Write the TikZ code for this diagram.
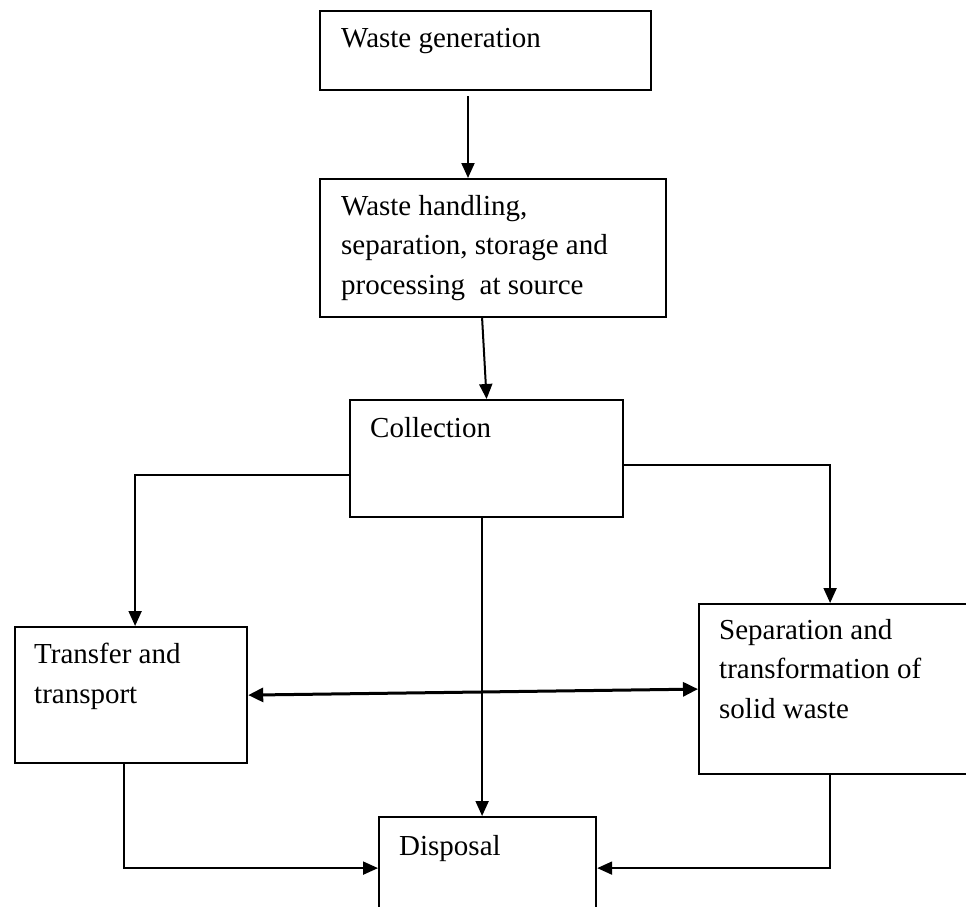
\documentclass[tikz,border=0pt]{standalone}
\usepackage{fontspec}
\setmainfont{Liberation Serif}
\usetikzlibrary{arrows.meta,calc,positioning}

\begin{document}
\begin{tikzpicture}[x=1pt,y=-1pt,
	boite/.style={draw, rectangle, line width=\cadre, inner sep=0pt, anchor=north west},
	texte/.style={anchor=base west, inner sep=0pt, align=left, font=\fontsize{29}{39.5}\selectfont},
	fleche/.style={line width=\light, -{Triangle[length=15pt,width=13pt]}},
	double/.style={line width=\heavy, {Triangle[length=15pt,width=14pt]}-{Triangle[length=15pt,width=14pt]}}]

%%%%%%%%%%%%%%%%%%%%%%
%%%	   Def style    %%%
%%%%%%%%%%%%%%%%%%%%%%

\def \cadre{2.2pt}
\def \light{2pt}
\def \heavy{3pt}

%%%%%%%%%%%%%%%%%%%%%%
%%%	    Cadre       %%%
%%%%%%%%%%%%%%%%%%%%%%

\useasboundingbox (0,0) rectangle (966,907);
\clip (0,0) rectangle (966,907);

%%%%%%%%%%%%%%%%%%%%%%
%%%	    Boites      %%%
%%%%%%%%%%%%%%%%%%%%%%

\node[boite, minimum width=331pt, minimum height=79pt] (gen) at (319,10) {};
\node[boite, minimum width=346pt, minimum height=138pt] (handling) at (319,178) {};
\node[boite, minimum width=273pt, minimum height=117pt] (collection) at (349,399) {};
\node[boite, minimum width=232pt, minimum height=136pt] (transfer) at (14,626) {};
\node[boite, minimum width=282pt, minimum height=170pt] (separate) at (698,603) {};
% la boite du bas sort de l'image
\node[boite, minimum width=217pt, minimum height=102pt] (disposal) at (378,816) {};

%%%%%%%%%%%%%%%%%%%%%%
%%%	    Textes      %%%
%%%%%%%%%%%%%%%%%%%%%%

% ancre sur la ligne de base de la derniere ligne
\node[texte] (gentxt) at (341,48) {Waste generation};
\node[texte] (handlingtxt) at (341,294) {Waste handling,\\separation, storage and\\processing~ at source};
\node[texte] (collectiontxt) at (370,437) {Collection};
\node[texte] (transfertxt) at (34,703) {Transfer and\\transport};
\node[texte] (separatetxt) at (719,718) {Separation and\\transformation of\\solid waste};
\node[texte] (disposaltxt) at (399,855) {Disposal};

%%%%%%%%%%%%%%%%%%%%%%
%%%	    Fleches     %%%
%%%%%%%%%%%%%%%%%%%%%%

% la premiere fleche ne touche pas la boite du haut
\coordinate (gentail) at (468,96);
\draw[fleche] (gentail) -- (gentail |- handling.north);
\draw[fleche] ([xshift=-11pt]handling.south) -- (collection.north);

% branches depuis la collecte
\draw[fleche] ([yshift=-16.5pt]collection.west) -| ([xshift=4pt]transfer.north);
\draw[fleche] ([yshift=-6.5pt]collection.east) -| ([xshift=-10pt]separate.north);
\draw[fleche] ([xshift=-4.5pt]collection.south) -- ([xshift=-5.5pt]disposal.north);

% echange entre transfert et transformation
\draw[double] (transfer.east) -- (separate.west);

% retours vers la mise en decharge
\draw[fleche] ([xshift=-7pt]transfer.south) |- (disposal.west);
\draw[fleche] ([xshift=-10pt]separate.south) |- (disposal.east);

%%%%%%%%%%%%%%%%%%%%%%%%%%%%%%%%%%%%%%%%%

\end{tikzpicture}
\end{document}
